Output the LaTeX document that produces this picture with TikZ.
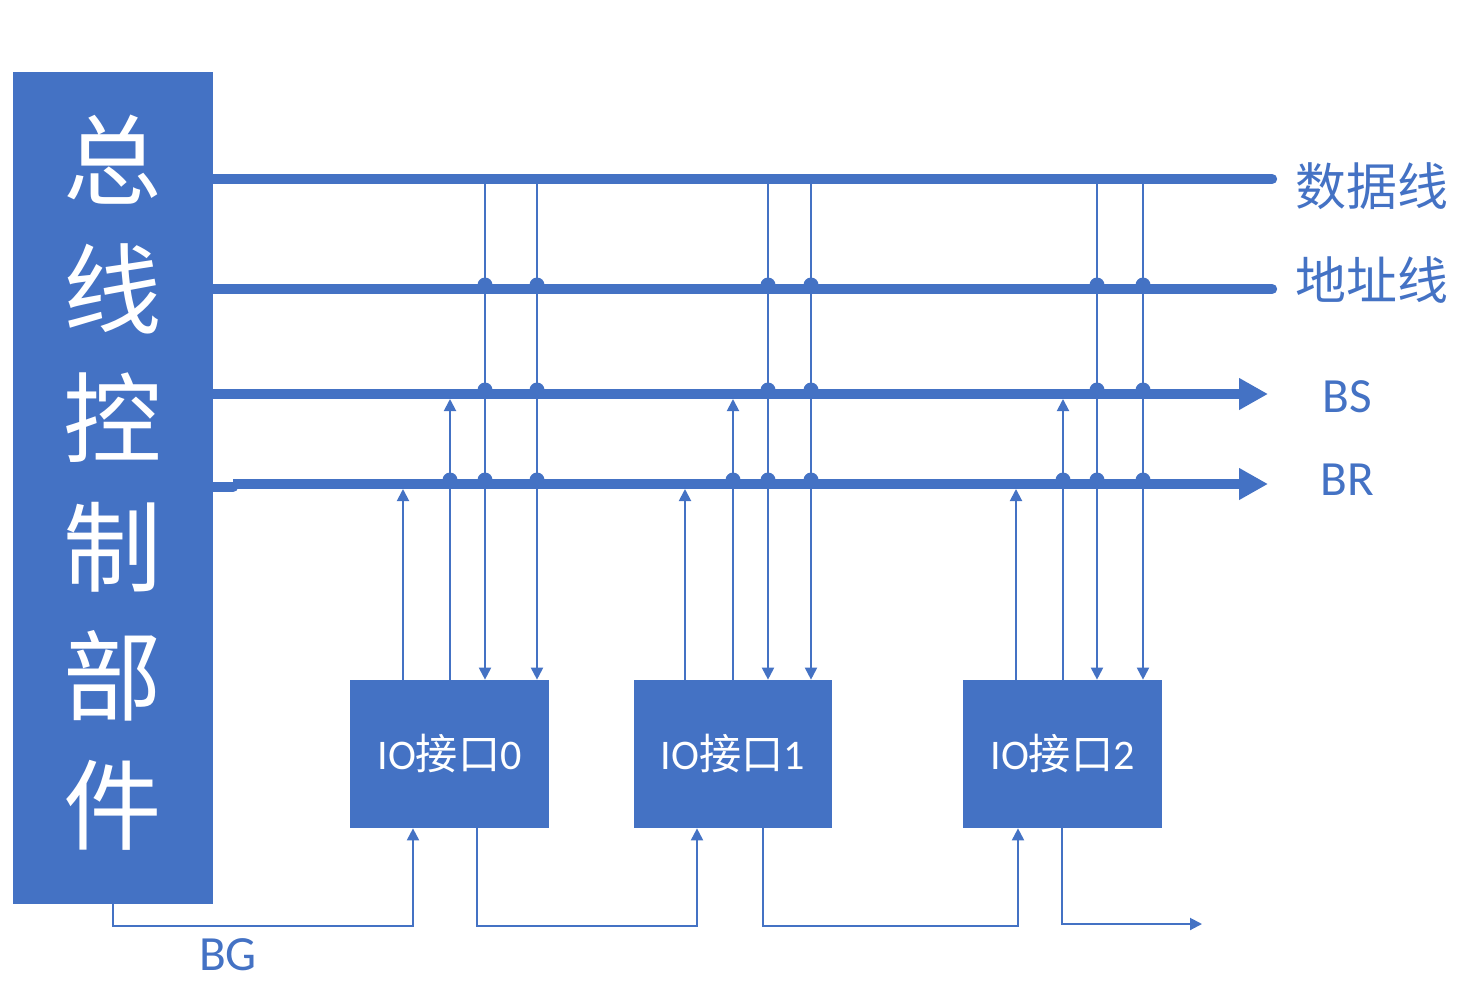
\documentclass[tikz,border=0pt]{standalone}
\usepackage{fontspec}
\setmainfont{Carlito}
\newfontfamily\cjk{Noto Sans CJK SC}
\usetikzlibrary{arrows.meta}
\definecolor{busblue}{HTML}{4472C4}
\tikzset{
  bus/.style={draw=busblue, line width=5.9pt},
  sig/.style={draw=busblue, line width=1.1pt},
  bigtip/.style={-{Triangle[length=0.58cm,width=0.6cm]}},
  tip/.style={-{Triangle[length=0.24cm,width=0.24cm]}},
  iobox/.style={rectangle, fill=busblue, inner sep=0pt, minimum width=3.98cm, minimum height=2.96cm, text=white, font=\fontsize{24}{28}\selectfont},
  buslabel/.style={text=busblue, font=\cjk\fontsize{29}{32}\selectfont},
  siglabel/.style={text=busblue, font=\fontsize{28}{32}\selectfont}
}
\newcommand{\hop}[2] {\fill[busblue] ({#1},{#2-4}) circle [radius=0.15cm];}
\newcommand{\iface}[3] {\node[iobox] at (#1) (#2) {IO{\cjk 接口}#3};}

\begin{document}
\begin{tikzpicture}[x=0.02cm, y=-0.02cm]
\useasboundingbox (0,0) rectangle (1484,1001);

\coordinate (dat) at (1272,179);
\coordinate (adr) at (1272,289);
\coordinate (bs) at (1268,394);
\coordinate (br) at (1268,484);
\coordinate (bgout) at (1202,924);

% bus lines
\draw[bus, line cap=round] (213,179) -- (dat);
\draw[bus, line cap=round] (213,289) -- (adr);
\draw[bus, bigtip] (213,394) -- (bs);
\draw[bus, line cap=round] (213,487) -- (233,487);
\draw[bus, bigtip] (233,484) -- (br);

\node[fill=busblue, inner sep=0pt, minimum width=4cm, minimum height=16.64cm] at (113,488) (ctrl) {};
\foreach \c [count=\i] in {总,线,控,制,部,件}
  \node[text=white, font=\cjk\fontsize{56}{60}\selectfont] at (113,{160+(\i-1)*129}) (ch\i) {\c};

\iface {449.5,754} {io0} {0};
\iface {733,754} {io1} {1};
\iface {1062.5,754} {io2} {2};

\foreach \bx/\a/\b/\c/\d in {io0/403/450/485/537, io1/685/733/768/811, io2/1016/1063/1097/1143} {
  \draw[sig, tip] (\bx.north -| \a,0) -- (\a,489);
  \draw[sig, tip] (\bx.north -| \b,0) -- (\b,399);
  \draw[sig, tip] (\c,179) -- (\bx.north -| \c,0);
  \draw[sig, tip] (\d,179) -- (\bx.north -| \d,0);
  \hop{\b}{484}
  \foreach \y in {289,394,484} {\hop{\c}{\y} \hop{\d}{\y}}
}

% BG daisy chain
\draw[sig, tip] (ctrl.south) -- (113,926) -| (io0.south -| 413,0);
\draw[sig, tip] (io0.south -| 477,0) -- (477,926) -| (io1.south -| 697,0);
\draw[sig, tip] (io1.south -| 763,0) -- (763,926) -| (io2.south -| 1018,0);
\draw[sig, tip] (io2.south -| 1062,0) |- (bgout);

\node[buslabel] at (1372,186) (ldat) {数据线};
\node[buslabel] at (1372,280) (ladr) {地址线};
\node[siglabel] at (1347,397) (lbs) {BS};
\node[siglabel] at (1347,480) (lbr) {BR};
\node[siglabel] at (228,955) (lbg) {BG};
\end{tikzpicture}
\end{document}
